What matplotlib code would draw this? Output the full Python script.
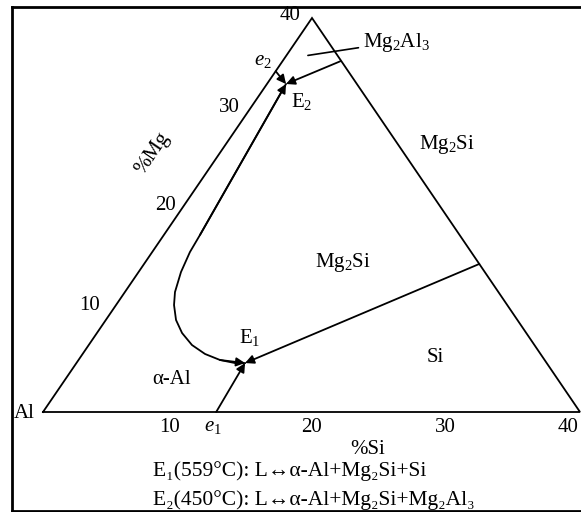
import matplotlib
matplotlib.use('Agg')
import matplotlib.pyplot as plt
from matplotlib.transforms import Affine2D
from matplotlib.lines import Line2D

plt.rcParams['font.family'] = ['Liberation Serif', 'DejaVu Serif']
plt.rcParams['mathtext.fontset'] = 'custom'
plt.rcParams['mathtext.rm'] = 'Liberation Serif'
plt.rcParams['mathtext.it'] = 'Liberation Serif:italic'

# ---- data: compositions as (%Si, %Mg) ----
tri_si = [0, 40, 0, 0]
tri_mg = [0, 0, 40, 0]
E1 = (12.56, 4.97)
E2 = (1.42, 33.3)
e1 = (12.9, 0.0)
e2 = (0.0, 34.6)
mg2si_si_edge = (24.97, 15.03)
mg2al3_edge = (4.3, 35.6)
mg2al3_region = (1.6, 36.2)
# alpha-Al / Mg2Si valley from E2 down to E1
curve_si = [1.42, 2.69, 2.81, 3.16, 3.73, 4.32, 5.23, 6.34, 7.69, 9.12, 10.54, 11.81, 12.56]
curve_mg = [33.30, 17.97, 16.24, 14.21, 12.18, 10.86, 9.34, 8.02, 6.80, 5.89, 5.28, 4.97, 4.97]
si_ticks = [10, 20, 30, 40]
mg_ticks = [10, 20, 30, 40]
si_tick_off = [(-8, -16), (0, -16), (0, -16), (-12, -16)]
mg_tick_off = [(-21, 8), (-12, 10), (-15, 9), (-22, 3)]

fig = plt.figure(figsize=(5.81, 5.12), dpi=100)
ax = fig.add_axes([0, 0, 1, 1])
ax.set_xlim(0, 581)
ax.set_ylim(512, 0)
ax.axis('off')

# ternary (%Si, %Mg) -> pixel transform
A = Affine2D.from_values(537 / 40, 0, 269 / 40, -394 / 40, 43, 412)
tern = A + ax.transData

# frame
for xs, ys in [([12, 12], [7, 511]), ([12, 581], [7, 7]), ([12, 581], [511, 511])]:
    ax.add_line(Line2D(xs, ys, color='black', lw=2.0))

ax.plot(tri_si, tri_mg, transform=tern, color='black', lw=1.3, solid_joinstyle='miter')
ax.plot(curve_si, curve_mg, transform=tern, color='black', lw=1.3)

def arrow(p_from, p_to):
    ax.annotate('', xy=p_to, xytext=p_from, xycoords=tern, textcoords=tern,
                arrowprops=dict(arrowstyle='-|>', color='black', lw=1.3,
                                mutation_scale=13, shrinkA=0, shrinkB=0))

arrow(e2, E2)
arrow(mg2al3_edge, E2)
arrow((curve_si[1], curve_mg[1]), (curve_si[0], curve_mg[0]))
arrow((curve_si[-3], curve_mg[-3]), (curve_si[-1], curve_mg[-1]))
arrow(mg2si_si_edge, E1)
arrow(e1, E1)

fs = 15
for v, off in zip(si_ticks, si_tick_off):
    ax.annotate(str(v), xy=(v, 0), xycoords=tern, xytext=off, textcoords='offset pixels',
                ha='center', va='center', fontsize=fs)
for v, off in zip(mg_ticks, mg_tick_off):
    ax.annotate(str(v), xy=(0, v), xycoords=tern, xytext=off, textcoords='offset pixels',
                ha='center', va='center', fontsize=fs)

ax.annotate(r'Mg$_\mathrm{2}$Al$_\mathrm{3}$', xy=mg2al3_region, xycoords=tern,
            xytext=(396, 42), textcoords='data', ha='center', va='center', fontsize=fs,
            arrowprops=dict(arrowstyle='-', color='black', lw=1.2, shrinkA=1, shrinkB=0))

labels = [
    ('Al', 24, 413, 0),
    ('%Mg', 153, 153, 55.7),
    ('%Si', 368, 450, 0),
    (r'Mg$_\mathrm{2}$Si', 447, 145, 0),
    (r'Mg$_\mathrm{2}$Si', 343, 263, 0),
    ('Si', 435, 357, 0),
    ('α-Al', 172, 379, 0),
    (r'E$_\mathrm{2}$', 302, 102, 0),
    (r'E$_\mathrm{1}$', 250, 337, 0),
    (r'$e_\mathrm{2}$', 263, 60, 0),
    (r'$e_\mathrm{1}$', 213, 426, 0),
]
for t, x, y, rot in labels:
    ax.text(x, y, t, ha='center', va='center', rotation=rot, fontsize=fs)

ax.text(153, 471, 'E₁(559°C): L↔α-Al+Mg₂Si+Si',
        ha='left', va='center', fontsize=15.5)
ax.text(153, 500, 'E₂(450°C): L↔α-Al+Mg₂Si+Mg₂Al₃',
        ha='left', va='center', fontsize=15.5)

fig.savefig('out.png', dpi=100)
